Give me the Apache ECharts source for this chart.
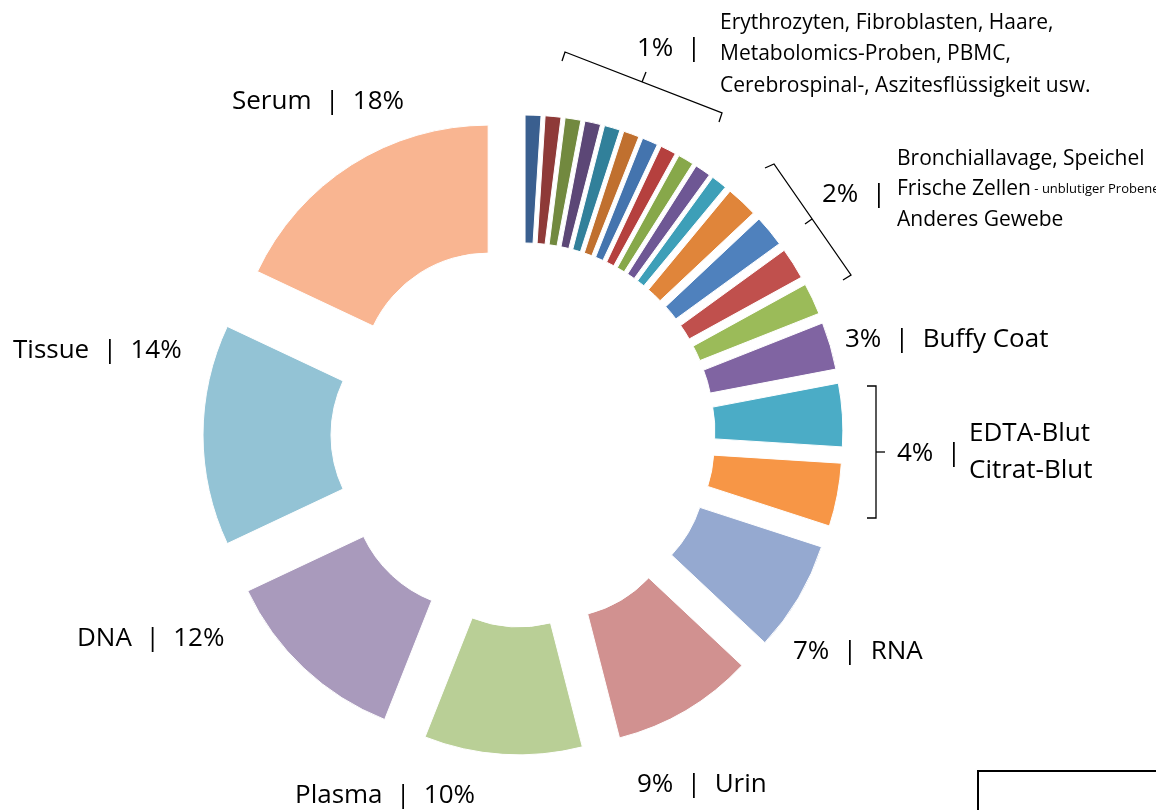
<!doctype html>
<html lang="de">
<head>
  <meta charset="UTF-8">
  <title>Probenarten</title>
  <script src="https://cdn.jsdelivr.net/npm/echarts@6/dist/echarts.min.js"></script>
  <style>
    * {
      margin: 0;
      padding: 0;
    }

    #chart {
      width: 1156px;
      height: 810px;
      background: #fff;
    }
  </style>
</head>
<body>
<div id="chart"></div>
<script>
  // Anteile der Probenarten (im Uhrzeigersinn ab 12 Uhr)
  const names = [
    'Erythrozyten', 'Fibroblasten', 'Haare', 'Metabolomics-Proben', 'PBMC',
    'Cerebrospinalflüssigkeit', 'Aszitesflüssigkeit', 'Sonstiges 1', 'Sonstiges 2', 'Sonstiges 3', 'Sonstiges 4',
    'Bronchiallavage', 'Speichel', 'Frische Zellen', 'Anderes Gewebe',
    'Buffy Coat', 'EDTA-Blut', 'Citrat-Blut', 'RNA', 'Urin', 'Plasma', 'DNA', 'Tissue', 'Serum'
  ]
  const values = [
    1, 1, 1, 1, 1, 1, 1, 1, 1, 1, 1,
    2, 2, 2, 2,
    3, 4, 4, 7, 9, 10, 12, 14, 18
  ]
  const colors = [
    '#3A5F8F', '#8E3A38', '#72893F', '#5C4776', '#31809A', '#C0702F',
    '#4474AE', '#B5403E', '#87A84A', '#6E5794', '#3D9FB8',
    '#E0853A', '#4F81BD', '#C0504D', '#9BBB59',
    '#8064A2', '#4BACC6', '#F79646', '#95A9D0', '#D19190', '#B9CF96', '#A99ABC', '#93C3D5', '#F9B591'
  ]

  // Beschriftungen
  const bigLabels = [
    'Serum  |  18%', 'Tissue  |  14%', 'DNA  |  12%', 'Plasma  |  10%',
    '9%  |  Urin', '7%  |  RNA', '3%  |  Buffy Coat', '4%  |', 'EDTA-Blut', 'Citrat-Blut', '2%  |', '1%  |'
  ]
  const bigLabelPos = [
    [232, 102], [13, 351], [77, 639], [295, 796],
    [637, 785], [793, 652], [845, 340], [897, 454], [969, 434], [969, 471], [822, 195], [637, 49]
  ]
  const onePctLines = [
    'Erythrozyten, Fibroblasten, Haare,',
    'Metabolomics-Proben, PBMC,',
    'Cerebrospinal-, Aszitesflüssigkeit usw.'
  ]
  const twoPctLines = [
    '{a|Bronchiallavage, Speichel}',
    '{a|Frische Zellen} {b|- unblutiger Probeneingang}',
    '{a|Anderes Gewebe}'
  ]

  const font = '"Open Sans", Lato, sans-serif'

  const graphics = []
  bigLabels.forEach(function (t, i) {
    graphics.push({
      type: 'text', x: bigLabelPos[i][0], y: bigLabelPos[i][1],
      style: {text: t, font: '26px ' + font, fill: '#000', verticalAlign: 'middle'}
    })
  })
  onePctLines.forEach(function (t, i) {
    graphics.push({
      type: 'text', x: 720, y: 23 + i * 31.5,
      style: {text: t, font: '21px ' + font, fill: '#000', verticalAlign: 'middle'}
    })
  })
  twoPctLines.forEach(function (t, i) {
    graphics.push({
      type: 'text', x: 897, y: 159 + i * 30.5,
      style: {
        text: t, fill: '#000', verticalAlign: 'middle',
        rich: {
          a: {fontFamily: font, fontSize: 21, fill: '#000'},
          b: {fontFamily: font, fontSize: 13, fill: '#000'}
        }
      }
    })
  })

  // Klammern
  const brackets = [
    [[562, 61], [565, 52], [722, 113], [719, 122]],
    [[642, 82], [646, 72]],
    [[765, 168], [774, 164], [851, 275], [843, 280]],
    [[812, 219], [805, 224]],
    [[867, 386], [876, 386], [876, 518], [867, 518]],
    [[876, 452], [885, 452]]
  ]
  brackets.forEach(function (pts) {
    graphics.push({
      type: 'polyline', shape: {points: pts},
      style: {stroke: '#000', lineWidth: 1.3, fill: null}
    })
  })

  // Rahmen unten rechts
  graphics.push({
    type: 'rect', shape: {x: 978, y: 771, width: 200, height: 60},
    style: {stroke: '#000', lineWidth: 2, fill: '#fff'}
  })

  const chart = echarts.init(document.getElementById('chart'))
  const option = {
    animation: false,
    backgroundColor: '#fff',
    graphic: graphics,
    series: [
      {
        type: 'pie',
        center: [523, 435],
        radius: [127, 255],
        startAngle: 90,
        clockwise: true,
        selectedMode: 'multiple',
        selectedOffset: 65,
        label: {show: false},
        labelLine: {show: false},
        emphasis: {disabled: true},
        itemStyle: {borderColor: '#fff', borderWidth: 1},
        data: names.map(function (n, i) {
          return {name: n, value: values[i], selected: true, itemStyle: {color: colors[i]}}
        })
      }
    ]
  }
  chart.setOption(option)
</script>
</body>
</html>
